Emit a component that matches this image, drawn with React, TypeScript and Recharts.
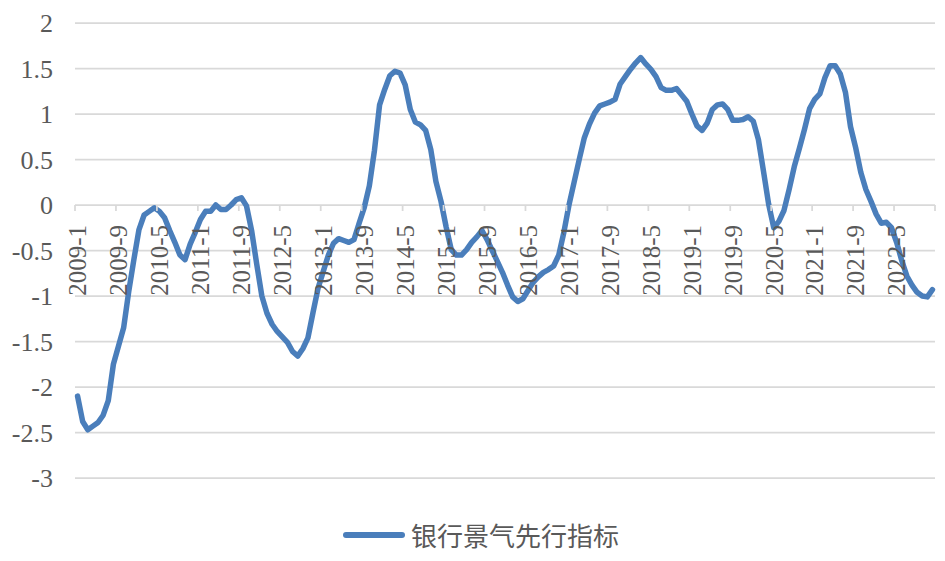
import React from 'react';
import { LineChart, Line, XAxis, YAxis, CartesianGrid, Legend } from 'recharts';

// 银行景气先行指标，按年份分组（每年 1-12 月）
const v2009 = [-2.1, -2.38, -2.47, -2.43, -2.39, -2.31, -2.15, -1.75, -1.55, -1.35, -0.95, -0.6];
const v2010 = [-0.27, -0.11, -0.07, -0.03, -0.07, -0.14, -0.28, -0.41, -0.55, -0.6, -0.43, -0.3];
const v2011 = [-0.16, -0.07, -0.07, 0.0, -0.05, -0.05, 0.0, 0.06, 0.08, -0.01, -0.28, -0.65];
const v2012 = [-1.0, -1.19, -1.31, -1.39, -1.45, -1.51, -1.61, -1.66, -1.58, -1.46, -1.18, -0.91];
const v2013 = [-0.73, -0.55, -0.42, -0.37, -0.39, -0.41, -0.38, -0.2, -0.03, 0.21, 0.6, 1.1];
const v2014 = [1.27, 1.42, 1.47, 1.45, 1.32, 1.05, 0.91, 0.88, 0.82, 0.61, 0.26, 0.04];
const v2015 = [-0.24, -0.49, -0.55, -0.55, -0.49, -0.41, -0.35, -0.28, -0.38, -0.5, -0.62, -0.74];
const v2016 = [-0.88, -1.01, -1.06, -1.03, -0.94, -0.85, -0.79, -0.74, -0.71, -0.67, -0.55, -0.3];
const v2017 = [0.0, 0.25, 0.5, 0.74, 0.89, 1.01, 1.09, 1.11, 1.13, 1.16, 1.33, 1.41];
const v2018 = [1.49, 1.56, 1.62, 1.55, 1.49, 1.41, 1.29, 1.26, 1.26, 1.28, 1.21, 1.14];
const v2019 = [1.0, 0.87, 0.82, 0.9, 1.05, 1.1, 1.11, 1.05, 0.93, 0.93, 0.94, 0.97];
const v2020 = [0.92, 0.72, 0.37, 0.01, -0.25, -0.18, -0.06, 0.17, 0.42, 0.62, 0.83, 1.06];
const v2021 = [1.16, 1.22, 1.4, 1.53, 1.53, 1.44, 1.24, 0.86, 0.63, 0.36, 0.17, 0.04];
const v2022 = [-0.1, -0.2, -0.19, -0.25, -0.41, -0.61, -0.78, -0.88, -0.96, -1.0, -1.01, -0.93];

const years = [2009, 2010, 2011, 2012, 2013, 2014, 2015, 2016, 2017, 2018, 2019, 2020, 2021, 2022];
const yearValues = [v2009, v2010, v2011, v2012, v2013, v2014, v2015, v2016, v2017, v2018, v2019, v2020, v2021, v2022];
const yTicks = [2, 1.5, 1, 0.5, 0, -0.5, -1, -1.5, -2, -2.5, -3];
const SERIES_NAME = '银行景气先行指标';

const data = years.flatMap((yr, k) =>
    yearValues[k].map((v, m) => ({ month: `${yr}-${m + 1}`, value: v }))
);

// 布局
const W = 945;
const H = 561;
const TOP = 23;
const LEFT = 75;
const RIGHT_M = 10;
const PLOT_W = W - LEFT - RIGHT_M;
const HALF = PLOT_W / data.length / 2;
const LEGEND_H = 40;
const BOTTOM_M = 6;
const X_H = 37;
const PLOT_H = H - TOP - BOTTOM_M - LEGEND_H - X_H;
const ZERO_Y = TOP + PLOT_H * (2 / 5);

const GRID = '#d9d9d9';
const TEXT = '#595959';
const BLUE = '#4a7ebb';
const SERIF = '"Liberation Serif", "Times New Roman", serif';

// X 轴：标签画在 0 轴线下方，刻度线在分类边界
const XTick = (props: any) => {
    const { x, index, payload } = props;
    if (index === data.length - 1) {
        return <line x1={x + HALF} x2={x + HALF} y1={ZERO_Y} y2={ZERO_Y + 6} stroke={GRID} strokeWidth={1.75} />;
    }
    if (index % 8 !== 0) return <g />;
    const ty = ZERO_Y + 20;
    return (
        <g>
            <line x1={x - HALF} x2={x - HALF} y1={ZERO_Y} y2={ZERO_Y + 6} stroke={GRID} strokeWidth={1.75} />
            <text
                x={x}
                y={ty}
                dy="0.35em"
                textAnchor="end"
                transform={`rotate(-90 ${x} ${ty})`}
                fill={TEXT}
                fontSize={25}
                fontFamily={SERIF}
            >
                {payload.value}
            </text>
        </g>
    );
};

const LegendContent = () => (
    <div style={{ display: 'flex', alignItems: 'center', height: LEGEND_H }}>
        <svg width={62} height={10}>
            <line x1={3} x2={59} y1={5} y2={5} stroke={BLUE} strokeWidth={6} strokeLinecap="round" />
        </svg>
        <span style={{ marginLeft: 6, fontFamily: '"Noto Sans CJK SC", sans-serif', fontSize: 26, color: TEXT, lineHeight: 1 }}>
            {SERIES_NAME}
        </span>
    </div>
);

export default function App() {
    return (
        <div style={{ position: 'absolute', left: 0, top: 0, width: W, height: H, background: '#fff' }}>
            <LineChart width={W} height={H} data={data} margin={{ top: TOP, right: RIGHT_M, left: 0, bottom: BOTTOM_M }}>
                <CartesianGrid vertical={false} stroke={GRID} strokeWidth={1.75} />
                <XAxis
                    dataKey="month"
                    interval={0}
                    height={X_H}
                    padding={{ left: HALF, right: HALF }}
                    axisLine={false}
                    tickLine={false}
                    tickSize={0}
                    tickMargin={0}
                    tick={<XTick />}
                />
                <YAxis
                    width={LEFT}
                    domain={[-3, 2]}
                    ticks={yTicks}
                    interval={0}
                    axisLine={false}
                    tickLine={false}
                    tickSize={0}
                    tickMargin={22}
                    tick={{ fill: TEXT, fontSize: 26, fontFamily: SERIF }}
                />
                <Legend
                    verticalAlign="bottom"
                    align="left"
                    height={LEGEND_H}
                    wrapperStyle={{ left: 343, width: 300 }}
                    content={<LegendContent />}
                />
                <Line
                    type="linear"
                    dataKey="value"
                    name={SERIES_NAME}
                    stroke={BLUE}
                    strokeWidth={5.5}
                    strokeLinejoin="round"
                    strokeLinecap="round"
                    dot={false}
                    activeDot={false}
                    isAnimationActive={false}
                />
            </LineChart>
        </div>
    );
}
